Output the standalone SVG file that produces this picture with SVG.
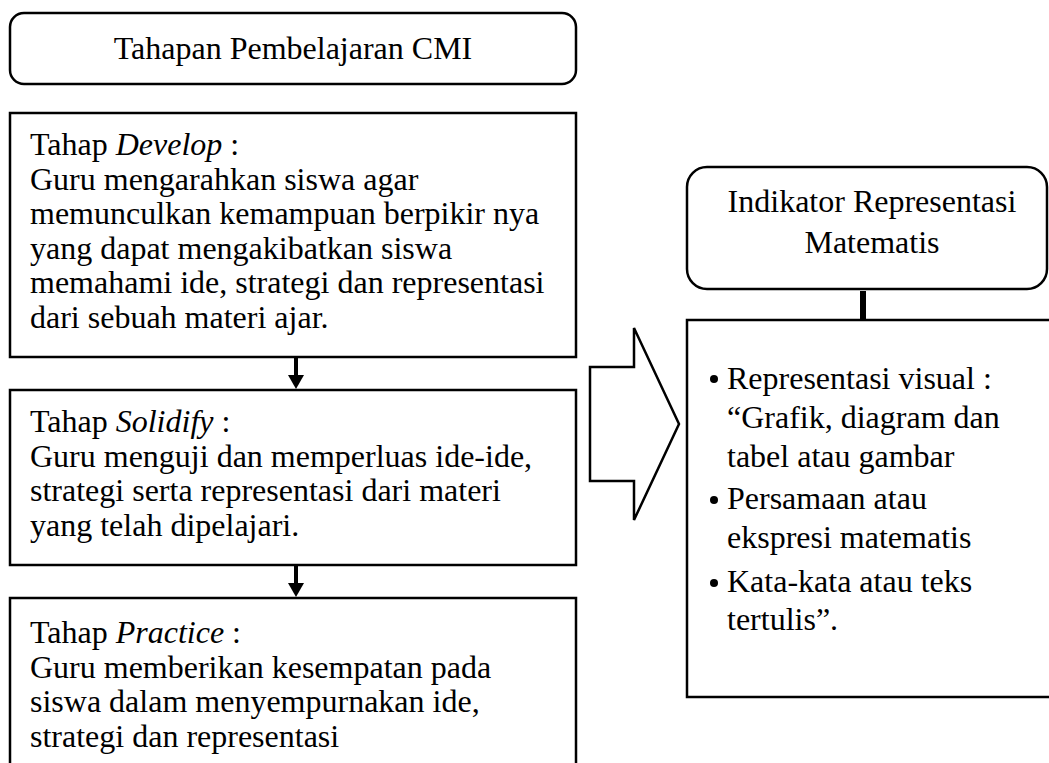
<svg xmlns="http://www.w3.org/2000/svg" width="1049" height="763" viewBox="0 0 1049 763">
<style>
.box{fill:#fff;stroke:#000;stroke-width:2.5}
.t{font-family:"Liberation Serif","Times New Roman",serif;font-size:32px;fill:#000}
.c{text-anchor:middle}
.i{font-style:italic}
.conn{stroke:#000;stroke-width:4;fill:none}
</style>
<defs>
<marker id="ah" markerWidth="4" markerHeight="4" refX="2" refY="2" orient="auto" markerUnits="userSpaceOnUse" viewBox="0 0 4 4"><path d="M0,0 L4,2 L0,4 Z" fill="#000"/></marker>
</defs>
<rect width="1049" height="763" fill="#fff"/>
<g id="title">
<rect class="box" x="10" y="13" width="566" height="71" rx="14"/>
<text class="t c" x="293" y="59">Tahapan Pembelajaran CMI</text>
</g>
<g id="develop">
<rect class="box" x="10" y="113" width="566" height="244"/>
<text class="t" x="30" y="155">Tahap <tspan class="i">Develop</tspan> :</text>
<text class="t" x="30" y="189.5">Guru mengarahkan siswa agar</text>
<text class="t" x="30" y="224">memunculkan kemampuan berpikir nya</text>
<text class="t" x="30" y="258.5">yang dapat mengakibatkan siswa</text>
<text class="t" x="30" y="293">memahami ide, strategi dan representasi</text>
<text class="t" x="30" y="327.5">dari sebuah materi ajar.</text>
</g>
<g id="solidify">
<rect class="box" x="10" y="390" width="566" height="175"/>
<text class="t" x="30" y="432">Tahap <tspan class="i">Solidify</tspan> :</text>
<text class="t" x="30" y="466.5">Guru menguji dan memperluas ide-ide,</text>
<text class="t" x="30" y="501">strategi serta representasi dari materi</text>
<text class="t" x="30" y="535.5">yang telah dipelajari.</text>
</g>
<g id="practice">
<rect class="box" x="10" y="598" width="566" height="200"/>
<text class="t" x="30" y="643">Tahap <tspan class="i">Practice</tspan> :</text>
<text class="t" x="30" y="677.5">Guru memberikan kesempatan pada</text>
<text class="t" x="30" y="712">siswa dalam menyempurnakan ide,</text>
<text class="t" x="30" y="746.5">strategi dan representasi</text>
</g>
<g id="big-arrow">
<polygon class="box" points="590,367 634,367 634,328 679,424 634,520 634,481 590,481"/>
</g>
<g id="indikator">
<rect class="box" x="687" y="167" width="360" height="122" rx="20"/>
<text class="t c" x="872" y="212">Indikator Representasi</text>
<text class="t c" x="872" y="253">Matematis</text>
</g>
<g id="list">
<rect class="box" x="687" y="320" width="400" height="377"/>
<circle cx="714" cy="379" r="4"/>
<circle cx="714" cy="500" r="4"/>
<circle cx="714" cy="583" r="4"/>
<text class="t" x="727" y="389">Representasi visual :</text>
<text class="t" x="727" y="428">“Grafik, diagram dan</text>
<text class="t" x="727" y="467">tabel atau gambar</text>
<text class="t" x="727" y="509">Persamaan atau</text>
<text class="t" x="727" y="548">ekspresi matematis</text>
<text class="t" x="727" y="592">Kata-kata atau teks</text>
<text class="t" x="727" y="630">tertulis”.</text>
</g>
<g id="connectors">
<line class="conn" x1="296" y1="358" x2="296" y2="378"/>
<polygon points="288,375 304,375 296,389" fill="#000"/>
<line class="conn" x1="296" y1="566" x2="296" y2="586"/>
<polygon points="288,583 304,583 296,597" fill="#000"/>
<line x1="863" y1="291" x2="863" y2="319" stroke="#000" stroke-width="6"/>
</g>
</svg>
